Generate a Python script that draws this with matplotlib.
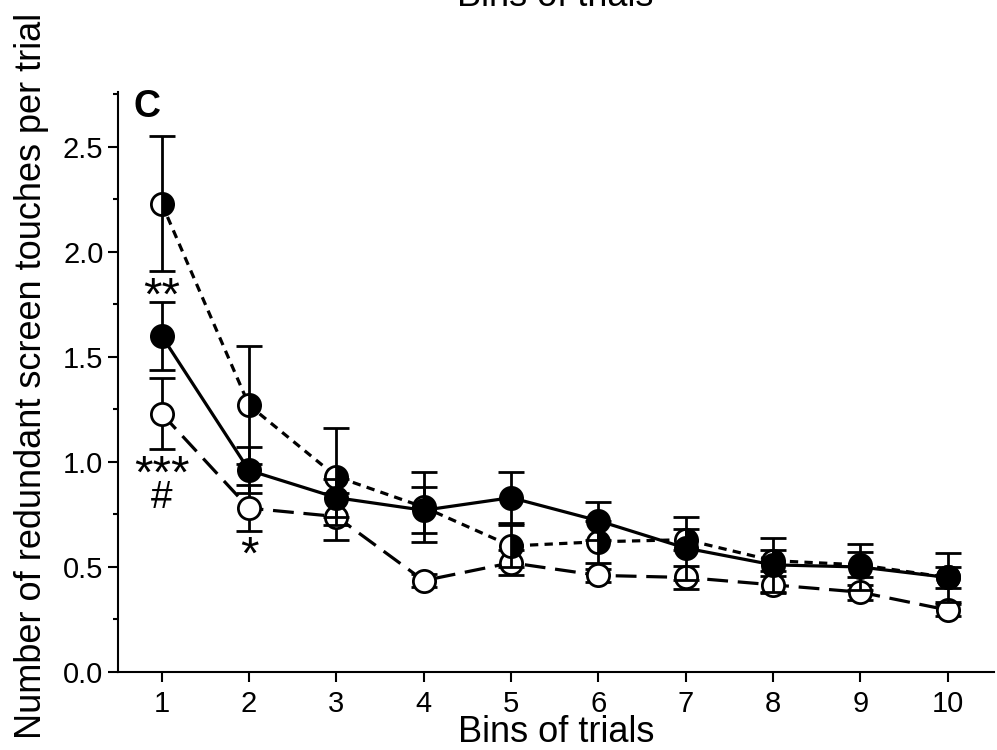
import matplotlib
matplotlib.use("Agg")
import matplotlib.pyplot as plt
import numpy as np

plt.rcParams['font.family'] = ['Liberation Sans', 'DejaVu Sans']
plt.rcParams['lines.scale_dashes'] = False

bins = [1, 2, 3, 4, 5, 6, 7, 8, 9, 10]

# solid line, filled circles
solid_mean = [1.60, 0.96, 0.83, 0.77, 0.83, 0.72, 0.59, 0.51, 0.50, 0.45]
solid_err = [0.16, 0.11, 0.09, 0.11, 0.12, 0.09, 0.15, 0.13, 0.11, 0.115]

# dashed line, open circles
dashed_mean = [1.23, 0.78, 0.74, 0.435, 0.52, 0.46, 0.45, 0.415, 0.38, 0.295]
dashed_err = [0.17, 0.11, 0.11, 0.03, 0.06, 0.03, 0.055, 0.04, 0.035, 0.03]

# dotted line, half-filled circles
dotted_mean = [2.23, 1.27, 0.93, 0.785, 0.60, 0.62, 0.63, 0.53, 0.51, 0.45]
dotted_err = [0.32, 0.28, 0.23, 0.167, 0.10, 0.10, 0.05, 0.05, 0.06, 0.05]

annotations = [(1, 1.725, "**", 34), (1, 0.876, "***", 34),
               (1, 0.780, "#", 28), (2, 0.49, "*", 34)]

fig = plt.figure(figsize=(9.97, 7.5), dpi=100)
ax = fig.add_axes([0.1184, 0.104, 0.997 - 0.1184, 0.877 - 0.104])

common = dict(color='black', ecolor='black', elinewidth=2.0, capsize=9.5,
              capthick=2.4, markersize=16, markeredgewidth=2.0,
              markeredgecolor='black', linewidth=2.3)

ax.errorbar(bins, dashed_mean, yerr=dashed_err, marker='o',
            markerfacecolor='white', linestyle=(0, (15, 7)), zorder=3, **common)
ax.errorbar(bins, dotted_mean, yerr=dotted_err, marker='o', fillstyle='right',
            markerfacecolor='black', markerfacecoloralt='white',
            linestyle=(0, (6, 4.5)), zorder=4, **common)
ax.errorbar(bins, solid_mean, yerr=solid_err, marker='o',
            markerfacecolor='black', linestyle='-', zorder=5, **common)

for x, y, s, fs in annotations:
    ax.text(x, y, s, ha='center', va='baseline', fontsize=fs, zorder=6)

ax.set_xlim(0.5, 10.53)
ax.set_ylim(0, 2.76)
ax.set_xticks(bins)
ax.set_yticks([0.0, 0.5, 1.0, 1.5, 2.0, 2.5])
ax.set_yticks(np.arange(0.25, 2.76, 0.5), minor=True)
ax.set_yticklabels(["0.0", "0.5", "1.0", "1.5", "2.0", "2.5"])

for s in ['top', 'right']:
    ax.spines[s].set_visible(False)
for s in ['left', 'bottom']:
    ax.spines[s].set_linewidth(1.5)

ax.tick_params(axis='x', which='major', length=7, width=1.5, labelsize=21, pad=6)
ax.tick_params(axis='y', which='major', length=7, width=1.5, labelsize=21, pad=3.5)
ax.tick_params(axis='y', which='minor', length=3.8, width=1.5)

ax.set_xlabel("Bins of trials", fontsize=26)
ax.xaxis.set_label_coords(0.5, -0.074)
ax.set_ylabel("Number of redundant screen touches per trial", fontsize=26)
ax.yaxis.set_label_coords(-0.079, 0.51)

ax.text(0.018, 0.975, "C", transform=ax.transAxes, fontsize=27, fontweight='bold',
        ha='left', va='center')

fig.text(0.557, 1 - 6 / 750, "Bins of trials", fontsize=26, ha='center', va='baseline')

fig.savefig("out.png", dpi=100)
